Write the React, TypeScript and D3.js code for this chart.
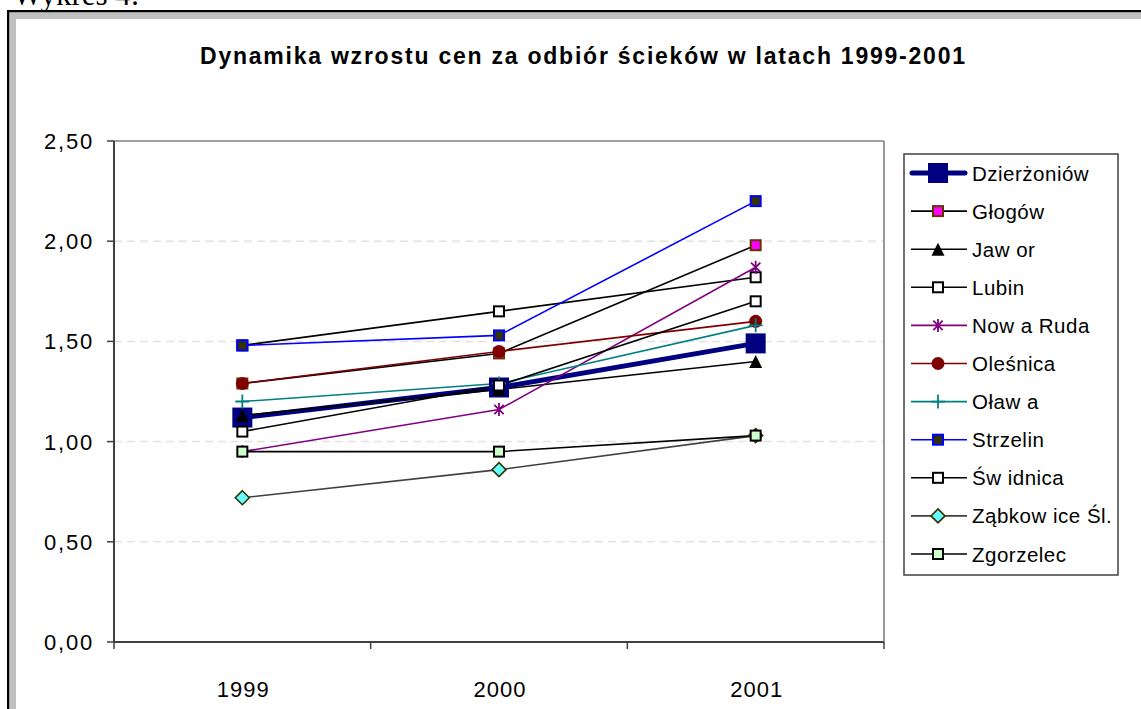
import React from "react";
import * as d3 from "d3";

const years = ["1999", "2000", "2001"];
const yTicks = [0, 0.5, 1, 1.5, 2, 2.5];
const gridValues = [0.5, 1, 1.5, 2];

const names = [
  "Dzierżoniów",
  "Głogów",
  "Jaw or",
  "Lubin",
  "Now a Ruda",
  "Oleśnica",
  "Oław a",
  "Strzelin",
  "Św idnica",
  "Ząbkow ice Śl.",
  "Zgorzelec",
];

const dzierzoniow = [1.12, 1.27, 1.49];
const glogow = [1.29, 1.44, 1.98];
const jawor = [1.13, 1.26, 1.4];
const lubin = [1.48, 1.65, 1.82];
const nowaRuda = [0.95, 1.16, 1.87];
const olesnica = [1.29, 1.45, 1.6];
const olawa = [1.2, 1.29, 1.58];
const strzelin = [1.48, 1.53, 2.2];
const swidnica = [1.05, 1.28, 1.7];
const zabkowice = [0.72, 0.86, 1.03];
const zgorzelec = [0.95, 0.95, 1.03];

type Style = {
  line: string;
  lw: number;
  marker: string;
  fill: string;
  stroke: string;
  size: number;
};

const styles: Style[] = [
  { line: "#000080", lw: 5, marker: "square", fill: "#000080", stroke: "#000080", size: 20 },
  { line: "#000000", lw: 1.6, marker: "square", fill: "#FF00FF", stroke: "#663300", size: 12 },
  { line: "#000000", lw: 1.6, marker: "triangle", fill: "#000000", stroke: "#000000", size: 13 },
  { line: "#000000", lw: 1.6, marker: "square", fill: "#FFFFFF", stroke: "#000000", size: 12 },
  { line: "#800080", lw: 1.6, marker: "star", fill: "none", stroke: "#800080", size: 13 },
  { line: "#800000", lw: 1.6, marker: "circle", fill: "#800000", stroke: "#800000", size: 13 },
  { line: "#008080", lw: 1.6, marker: "plus", fill: "none", stroke: "#008080", size: 14 },
  { line: "#0000FF", lw: 1.6, marker: "square", fill: "#333300", stroke: "#0000FF", size: 12 },
  { line: "#000000", lw: 1.6, marker: "square", fill: "#FFFFFF", stroke: "#000000", size: 12 },
  { line: "#404040", lw: 1.6, marker: "diamond", fill: "#66FFFF", stroke: "#333300", size: 14 },
  { line: "#000000", lw: 1.6, marker: "square", fill: "#CCFFCC", stroke: "#000000", size: 12 },
];

const seriesValues = [
  dzierzoniow,
  glogow,
  jawor,
  lubin,
  nowaRuda,
  olesnica,
  olawa,
  strzelin,
  swidnica,
  zabkowice,
  zgorzelec,
];

const FONT = "'Liberation Sans', Arial, sans-serif";

function Marker({ cx, cy, s }: { cx: number; cy: number; s: Style }) {
  const h = s.size / 2;
  switch (s.marker) {
    case "square":
      return (
        <rect
          x={cx - h + 1}
          y={cy - h + 1}
          width={s.size - 2}
          height={s.size - 2}
          fill={s.fill}
          stroke={s.stroke}
          strokeWidth={2}
        />
      );
    case "triangle":
      return (
        <path
          d={`M${cx},${cy - h} L${cx + h},${cy + h} L${cx - h},${cy + h} Z`}
          fill={s.fill}
        />
      );
    case "circle":
      return <circle cx={cx} cy={cy} r={h} fill={s.fill} />;
    case "diamond":
      return (
        <path
          d={`M${cx},${cy - h} L${cx + h},${cy} L${cx},${cy + h} L${cx - h},${cy} Z`}
          fill={s.fill}
          stroke={s.stroke}
          strokeWidth={1.6}
        />
      );
    case "plus":
      return (
        <path
          d={`M${cx - h},${cy} H${cx + h} M${cx},${cy - h} V${cy + h}`}
          stroke={s.stroke}
          strokeWidth={1.8}
          fill="none"
        />
      );
    case "star": {
      const d = h * 0.72;
      return (
        <path
          d={`M${cx},${cy - h} V${cy + h} M${cx - d},${cy - d} L${cx + d},${cy + d} M${cx + d},${cy - d} L${cx - d},${cy + d}`}
          stroke={s.stroke}
          strokeWidth={1.8}
          fill="none"
        />
      );
    }
    default:
      return null;
  }
}

export default function App() {
  const W = 1141;
  const H = 709;
  const left = 114;
  const right = 884;
  const top = 141;
  const bottom = 642;

  const x = d3.scaleBand<string>().domain(years).range([left, right]);
  const y = d3.scaleLinear().domain([0, 2.5]).range([bottom, top]);
  const cx = (yr: string) => (x(yr) as number) + x.bandwidth() / 2;
  const lineGen = d3
    .line<number>()
    .x((_, i) => cx(years[i]))
    .y((v) => y(v));

  const legendX = 904;
  const legendY = 154;
  const legendW = 214;
  const legendH = 421;
  const rowStep = 38.1;
  const row0 = 173;

  const bandEdges = [...years.map((yr) => x(yr) as number), right];

  return (
    <svg
      width={W}
      height={H}
      style={{ position: "absolute", left: 0, top: 0, display: "block" }}
      fontFamily={FONT}
    >
      <rect x={0} y={0} width={W} height={H} fill="#ffffff" />
      <text
        x={13}
        y={5}
        fontFamily="'Liberation Serif', 'Times New Roman', serif"
        fontSize={31}
        fill="#000"
      >
        Wykres 4:
      </text>
      {/* outer frame */}
      <rect x={9} y={12} width={W} height={H} fill="#c0c0c0" />
      <rect x={16} y={19} width={W} height={H} fill="#ffffff" />
      <rect x={7} y={10} width={W} height={2.2} fill="#000" />
      <rect x={7} y={10} width={2.2} height={H} fill="#000" />

      {/* title */}
      <text
        x={582.5}
        y={64}
        textAnchor="middle"
        fontWeight="bold"
        fontSize={23}
        textLength={765}
        lengthAdjust="spacing"
        fill="#000"
      >
        Dynamika wzrostu cen za odbiór ścieków w latach 1999-2001
      </text>

      {/* gridlines */}
      {gridValues.map((v) => (
        <line
          key={v}
          x1={left}
          x2={right}
          y1={y(v)}
          y2={y(v)}
          stroke="#e2e2e2"
          strokeWidth={1.5}
          strokeDasharray="8,5"
        />
      ))}
      {/* plot border top/right */}
      <line x1={left} x2={right} y1={top} y2={top} stroke="#808080" strokeWidth={1.6} />
      <line x1={right} x2={right} y1={top} y2={bottom} stroke="#808080" strokeWidth={1.6} />

      {/* y axis */}
      <line x1={left} x2={left} y1={top} y2={bottom} stroke="#404040" strokeWidth={2} />
      {yTicks.map((v) => (
        <g key={v}>
          <line x1={left - 7} x2={left} y1={y(v)} y2={y(v)} stroke="#404040" strokeWidth={1.5} />
          <text
            x={94}
            y={y(v) + 8}
            textAnchor="end"
            fontSize={22}
            letterSpacing={1.8}
            fill="#000"
          >
            {d3.format(".2f")(v).replace(".", ",")}
          </text>
        </g>
      ))}

      {/* x axis */}
      <line x1={left} x2={right} y1={bottom} y2={bottom} stroke="#404040" strokeWidth={2.2} />
      {bandEdges.map((e, i) => (
        <line key={i} x1={e} x2={e} y1={bottom} y2={bottom + 7} stroke="#404040" strokeWidth={1.5} />
      ))}
      {years.map((yr) => (
        <text
          key={yr}
          x={cx(yr) + 1}
          y={697}
          textAnchor="middle"
          fontSize={22}
          letterSpacing={1}
          fill="#000"
        >
          {yr}
        </text>
      ))}

      {/* series lines */}
      {seriesValues.map((vals, i) => (
        <path
          key={"l" + i}
          d={lineGen(vals) as string}
          fill="none"
          stroke={styles[i].line}
          strokeWidth={styles[i].lw}
          strokeLinejoin="round"
        />
      ))}
      {/* markers */}
      {seriesValues.map((vals, i) =>
        vals.map((v, j) => (
          <Marker key={`m${i}-${j}`} cx={cx(years[j])} cy={y(v)} s={styles[i]} />
        ))
      )}

      {/* legend */}
      <rect
        x={legendX}
        y={legendY}
        width={legendW}
        height={legendH}
        fill="#ffffff"
        stroke="#404040"
        strokeWidth={1.5}
      />
      {names.map((n, i) => {
        const ry = row0 + i * rowStep;
        const s = styles[i];
        return (
          <g key={n}>
            <line
              x1={i === 0 ? 912 : 911}
              x2={i === 0 ? 965 : 967}
              y1={ry}
              y2={ry}
              stroke={s.line}
              strokeWidth={s.lw}
              strokeLinecap={i === 0 ? "round" : "butt"}
            />
            <Marker cx={938} cy={ry} s={s} />
            <text x={972} y={ry + 7.5} fontSize={20.5} letterSpacing={0.5} fill="#000">
              {n}
            </text>
          </g>
        );
      })}
    </svg>
  );
}
